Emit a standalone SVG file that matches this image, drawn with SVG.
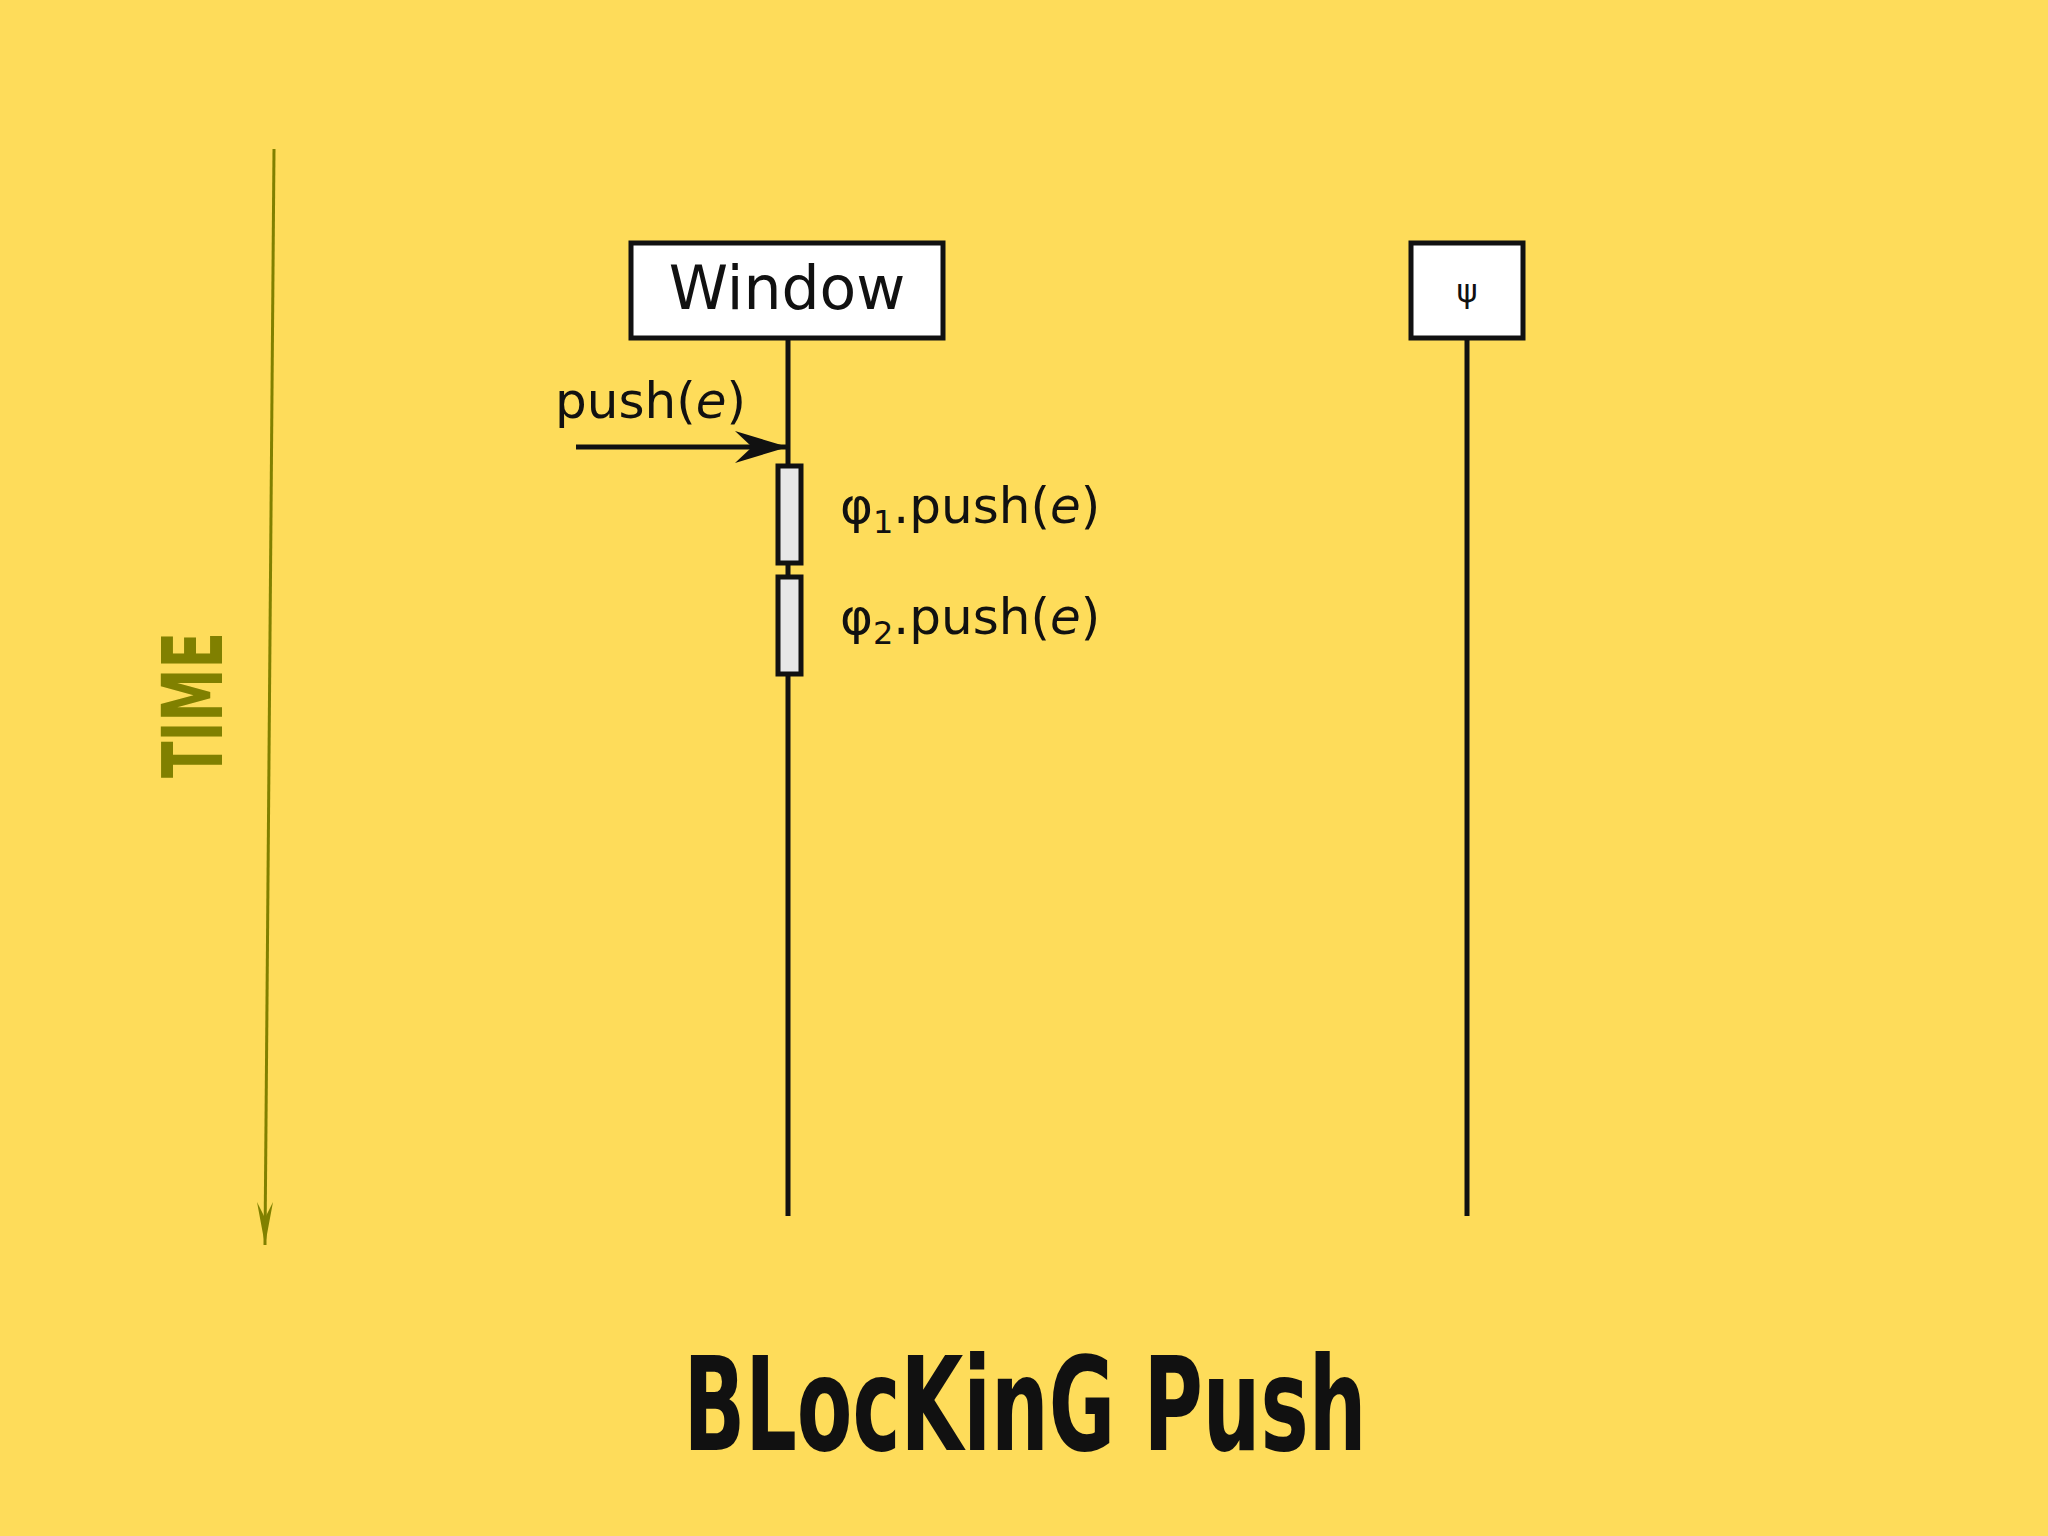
<svg xmlns="http://www.w3.org/2000/svg" width="2048" height="1536" viewBox="0 0 2048 1536">
<style>
.box{fill:#fff;stroke:#111;stroke-width:5}
.act{fill:#e8e8e8;stroke:#111;stroke-width:5}
.life{stroke:#111;stroke-width:5;fill:none}
.t{font-family:"DejaVu Sans",sans-serif;fill:#111}
</style>
<defs>
<marker id="ah" markerWidth="12" markerHeight="10" refX="12" refY="5" orient="auto" markerUnits="userSpaceOnUse" viewBox="0 0 12 10"><path d="M0,0 L12,5 L0,10 L3,5 Z" fill="#111"/></marker>
<marker id="ta" viewBox="0 0 12 30" refX="6" refY="30" markerWidth="12" markerHeight="30" orient="auto-start-reverse" markerUnits="userSpaceOnUse"><path d="M0,0 L6,30 L12,0 L6,12 Z" fill="#808000"/></marker>
</defs>
<rect width="2048" height="1536" fill="#FEDC5A"/>
<g id="time">
<line x1="274" y1="149" x2="265" y2="1245" stroke="#808000" stroke-width="3"/>
<path d="M257,1202 L265,1245 L273,1202 L265,1218 Z" fill="#808000"/>
<text transform="translate(222,705) rotate(-90)" text-anchor="middle" font-family="DejaVu Sans Condensed,sans-serif" font-weight="bold" font-size="84" fill="#808000" textLength="146" lengthAdjust="spacingAndGlyphs">TIME</text>
</g>
<g id="connectors">
<line class="life" x1="788" y1="338" x2="788" y2="1216"/>
<line class="life" x1="1467" y1="338" x2="1467" y2="1216"/>
<line x1="576" y1="447" x2="786" y2="447" stroke="#111" stroke-width="5"/>
<path d="M735,431 L788,447 L735,463 L752,447 Z" fill="#111"/>
</g>
<g id="window"><rect class="box" x="631" y="243" width="312" height="95"/><text class="t" x="787" y="309" font-size="60" text-anchor="middle">Window</text></g>
<g id="psi"><rect class="box" x="1411" y="243" width="112" height="95"/><text class="t" x="1467" y="302" font-size="32" text-anchor="middle">ψ</text></g>
<g id="push"><text class="t" x="555" y="418" font-size="50">push(<tspan font-style="italic">e</tspan>)</text></g>
<g id="act1"><rect class="act" x="778" y="466" width="23" height="97"/><text class="t" x="840" y="523" font-size="50">φ<tspan font-size="32" dy="10">1</tspan><tspan dy="-10">.push(</tspan><tspan font-style="italic">e</tspan>)</text></g>
<g id="act2"><rect class="act" x="778" y="577" width="23" height="97"/><text class="t" x="840" y="634" font-size="50">φ<tspan font-size="32" dy="10">2</tspan><tspan dy="-10">.push(</tspan><tspan font-style="italic">e</tspan>)</text></g>
<g id="title"><text x="1025" y="1450" text-anchor="middle" font-family="DejaVu Sans Condensed,sans-serif" font-weight="bold" font-size="130" fill="#111" textLength="683" lengthAdjust="spacingAndGlyphs">BLocKinG Push</text></g>
</svg>
